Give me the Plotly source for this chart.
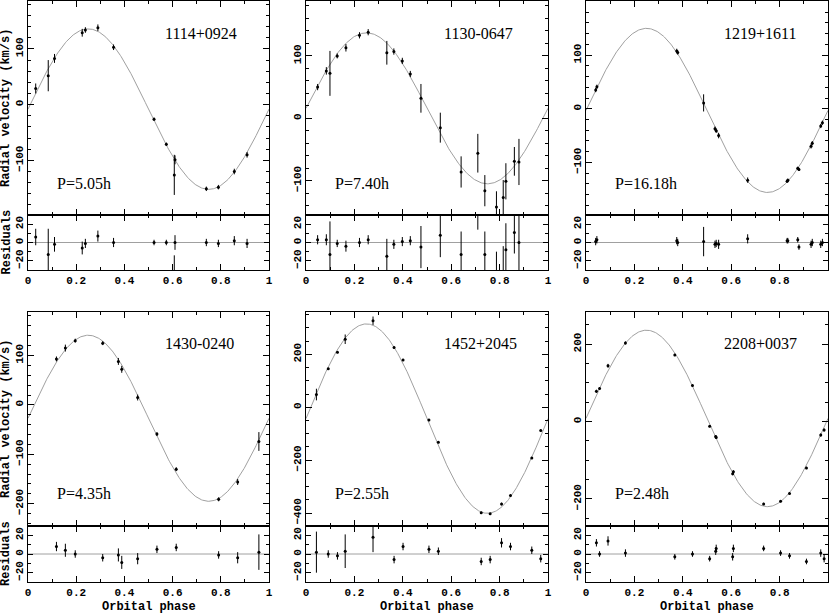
import numpy as np
import plotly.graph_objects as go

# star names, periods and fitted orbit (systemic velocity, semi-amplitude)
names = ['1114+0924', '1130-0647', '1219+1611', '1430-0240', '1452+2045', '2208+0037']
periods = ['P=5.05h', 'P=7.40h', 'P=16.18h', 'P=4.35h', 'P=2.55h', 'P=2.48h']
gamma = [-8, 16, -3, -27, -43, 8]
k_amp = [144, 121, 153, 168, 358, 228]

# 1114+0924
phase_1 = [0.032, 0.084, 0.11, 0.225, 0.238, 0.29, 0.355, 0.523, 0.574, 0.61, 0.607, 0.74, 0.79, 0.856, 0.909]
rv_1 = [29, 52, 83, 129, 134, 138, 103, -26, -71, -99, -126, -151, -148, -120, -90]
err_1 = [9, 28, 8, 7, 5, 6, 5, 3, 3, 8, 36, 4, 4, 5, 5]
res_1 = [6, -13, -2, -6, -1, 7, 0, 0, 0, 0, -50, 0, -1, 2, -1]

# 1130-0647
phase_2 = [0.048, 0.084, 0.099, 0.129, 0.165, 0.221, 0.257, 0.334, 0.363, 0.398, 0.431,
           0.475, 0.555, 0.641, 0.71, 0.739, 0.787, 0.815, 0.826, 0.861, 0.88]
rv_2 = [50, 76, 72, 100, 113, 133, 138, 105, 107, 92, 71,
        32, -15, -86, -56, -116, -142, -127, -101, -69, -70]
err_2 = [5, 6, 36, 4, 6, 5, 5, 19, 5, 5, 5,
         23, 24, 25, 31, 25, 25, 28, 29, 23, 37]
res_2 = [3, 3, -13, -1, -4, 0, 3, -15, -2, 1, 2,
         -5, 8, -13, 45, -13, -35, -32, -8, 11, 0]

# 1219+1611
phase_3 = [0.04, 0.045, 0.375, 0.379, 0.486, 0.533, 0.538, 0.548, 0.668,
           0.831, 0.834, 0.875, 0.88, 0.93, 0.935, 0.97, 0.977]
rv_3 = [35, 41, 108, 105, 11, -37, -41, -50, -133,
        -135, -133, -111, -113, -70, -64, -32, -26]
err_3 = [4, 4, 4, 4, 16, 4, 4, 5, 5, 3, 3, 3, 3, 4, 4, 4, 4]
res_3 = [1, 3, 2, 0, 1, -2, -1, -2, 4, 2, 2, 3, -5, -2, 0, -2, 0]

# 1430-0240
phase_4 = [0.118, 0.155, 0.196, 0.31, 0.375, 0.389, 0.455, 0.535, 0.615, 0.791, 0.87, 0.958]
rv_4 = [93, 115, 130, 125, 88, 72, 15, -59, -130, -191, -156, -74]
err_4 = [5, 7, 4, 4, 7, 7, 6, 4, 4, 4, 6, 19]
res_4 = [8, 4, 0, -4, -1, -9, -5, 5, 7, -1, -4, 2]

# 1452+2045
phase_5 = [0.043, 0.092, 0.13, 0.162, 0.277, 0.364, 0.401, 0.508, 0.547,
           0.724, 0.761, 0.808, 0.845, 0.933, 0.97]
rv_5 = [48, 145, 208, 257, 327, 226, 179, -48, -132,
        -399, -403, -366, -334, -192, -88]
err_5 = [22, 4, 4, 18, 16, 4, 4, 4, 4, 4, 4, 5, 4, 4, 4]
res_5 = [2, 0, -2, 3, 18, -6, 8, 5, 3, -8, -6, 12, 8, 4, -5]

# 2208+0037
phase_6 = [0.043, 0.056, 0.091, 0.163, 0.367, 0.44, 0.511, 0.536, 0.538,
           0.606, 0.609, 0.734, 0.804, 0.841, 0.911, 0.97, 0.984]
rv_6 = [78, 85, 144, 203, 172, 93, -12, -39, -41,
        -135, -130, -213, -206, -186, -120, -35, -22]
err_6 = [4, 3, 5, 4, 3, 3, 3, 4, 4, 4, 4, 3, 3, 3, 3, 4, 4]
res_6 = [12, 0, 14, 1, -3, 0, -5, 3, 6, -3, 6, 6, 1, -2, -8, 1, -5]

phases = [phase_1, phase_2, phase_3, phase_4, phase_5, phase_6]
rvs = [rv_1, rv_2, rv_3, rv_4, rv_5, rv_6]
errs = [err_1, err_2, err_3, err_4, err_5, err_6]
resids = [res_1, res_2, res_3, res_4, res_5, res_6]

y_ranges = [[-198, 186], [-155, 188], [-198, 201], [-245, 188], [-449, 360], [-270, 283]]
y_dtick = [100, 100, 100, 100, 200, 200]
y_minor = [20, 20, 20, 20, 50, 50]

W, H = 830, 615
col_px = [(28, 269), (306, 548), (586, 828)]
row_px = [(1, 215, 270), (312, 526, 582)]   # top of main, main/resid split, bottom

mono = 'Liberation Mono'
serif = 'Liberation Serif'
curve_col = '#a0a0a0'

fig = go.Figure()
layout = {}
annotations = []
shapes = []

model_phase = np.linspace(0, 1, 301)

for i in range(6):
    r, c = divmod(i, 3)
    x0, x1 = col_px[c]
    t, m, b = row_px[r]
    xd = [x0 / W, x1 / W]
    main_n = 2 * i + 1
    res_n = 2 * i + 2
    sm = '' if main_n == 1 else str(main_n)
    sr = str(res_n)

    axis_common = dict(
        showline = True, linecolor = 'black', linewidth = 1, mirror = 'allticks',
        ticks = 'inside', tickcolor = 'black', showgrid = False, zeroline = False,
        automargin = False,
        tickfont = dict(family = mono, size = 11, color = 'black', weight = 'bold'),
    )

    layout['xaxis' + sm] = dict(
        axis_common, domain = xd, range = [0, 1], anchor = 'y' + sm,
        dtick = 0.2, ticklen = 6, showticklabels = False, matches = 'x' + sr,
        minor = dict(dtick = 0.1, ticklen = 3, ticks = 'inside', tickcolor = 'black'),
    )
    layout['yaxis' + sm] = dict(
        axis_common, domain = [1 - m / H, 1 - t / H], range = y_ranges[i], anchor = 'x' + sm,
        dtick = y_dtick[i], ticklen = 6, tickangle = -90,
        minor = dict(dtick = y_minor[i], ticklen = 3, ticks = 'inside', tickcolor = 'black'),
    )
    layout['xaxis' + sr] = dict(
        axis_common, domain = xd, range = [0, 1], anchor = 'y' + sr,
        dtick = 0.2, ticklen = 6, tickangle = 0,
        minor = dict(dtick = 0.1, ticklen = 3, ticks = 'inside', tickcolor = 'black'),
    )
    layout['yaxis' + sr] = dict(
        axis_common, domain = [1 - b / H, 1 - m / H], range = [-30, 30], anchor = 'x' + sr,
        dtick = 20, ticklen = 5, tickangle = -90,
        minor = dict(dtick = 10, ticklen = 3, ticks = 'inside', tickcolor = 'black'),
    )

    # fitted orbit
    fig.add_trace(go.Scatter(
        x = model_phase,
        y = gamma[i] + k_amp[i] * np.sin(2 * np.pi * model_phase),
        mode = 'lines', line = dict(color = curve_col, width = 1),
        xaxis = 'x' + sm, yaxis = 'y' + sm, hoverinfo = 'skip',
    ))
    fig.add_trace(go.Scatter(
        x = phases[i], y = rvs[i], mode = 'markers',
        marker = dict(color = 'black', size = 3),
        error_y = dict(type = 'data', array = errs[i], width = 0, thickness = 1, color = 'black'),
        xaxis = 'x' + sm, yaxis = 'y' + sm,
    ))

    # residuals
    shapes.append(dict(
        type = 'line', xref = 'x' + sr + ' domain', yref = 'y' + sr,
        x0 = 0, x1 = 1, y0 = 0, y1 = 0, line = dict(color = curve_col, width = 1), layer = 'below',
    ))
    fig.add_trace(go.Scatter(
        x = phases[i], y = resids[i], mode = 'markers',
        marker = dict(color = 'black', size = 3),
        error_y = dict(type = 'data', array = errs[i], width = 0, thickness = 1, color = 'black'),
        xaxis = 'x' + sr, yaxis = 'y' + sr,
    ))

    name_y = 0.847 if r == 0 else 0.855
    p_y = 0.149 if r == 0 else 0.154
    annotations.append(dict(
        text = names[i], xref = 'x' + sm + ' domain', yref = 'y' + sm + ' domain',
        x = 0.56, y = name_y, xanchor = 'left', yanchor = 'middle', showarrow = False,
        font = dict(family = serif, size = 16, color = 'black'),
    ))
    annotations.append(dict(
        text = periods[i], xref = 'x' + sm + ' domain', yref = 'y' + sm + ' domain',
        x = 0.112, y = p_y, xanchor = 'left', yanchor = 'middle', showarrow = False,
        font = dict(family = serif, size = 16, color = 'black'),
    ))

title_font = dict(family = mono, size = 12, color = 'black', weight = 'bold')
for r in range(2):
    t, m, b = row_px[r]
    annotations.append(dict(
        text = 'Radial velocity (km/s)', xref = 'paper', yref = 'paper',
        x = 6 / W, y = 1 - (t + m) / 2 / H, textangle = -90, showarrow = False,
        xanchor = 'center', yanchor = 'middle', font = title_font,
    ))
    annotations.append(dict(
        text = 'Residuals', xref = 'paper', yref = 'paper',
        x = 6 / W, y = 1 - (m + b) / 2 / H, textangle = -90, showarrow = False,
        xanchor = 'center', yanchor = 'middle', font = title_font,
    ))
for c in range(3):
    x0, x1 = col_px[c]
    annotations.append(dict(
        text = 'Orbital phase', xref = 'paper', yref = 'paper',
        x = (x0 + x1) / 2 / W, y = 1 - 607 / H, showarrow = False,
        xanchor = 'center', yanchor = 'middle', font = title_font,
    ))

fig.update_layout(
    layout,
    width = W,
    height = H,
    margin = dict(l = 0, r = 0, t = 0, b = 0),
    plot_bgcolor = 'white',
    paper_bgcolor = 'white',
    showlegend = False,
    annotations = annotations,
    shapes = shapes,
)

# page has a default body margin; drop it so the figure fills the window
fig.write_html(
    "out.html",
    config = {'displayModeBar': False},
    post_script = "document.body.style.margin = '0';",
)
